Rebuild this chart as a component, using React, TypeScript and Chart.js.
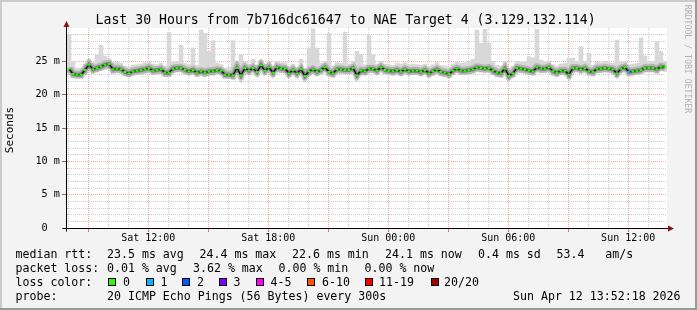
import React, { useEffect, useRef } from 'react';
import { Chart, registerables } from 'chart.js';

Chart.register(...registerables);

// ---------- texts ----------
const TITLE = 'Last 30 Hours from 7b716dc61647 to NAE Target 4 (3.129.132.114)';
const Y_TITLE = 'Seconds';
const WATERMARK = 'RRDTOOL / TOBI OETIKER';

// ---------- time axis (hours counted from Sat 00:00) ----------
const X_MIN_HOUR = 7.935;
const X_MAX_HOUR = 37.94;
const FIRST_SAMPLE_HOUR = 8.035;
const SAMPLE_STEP_HOURS = 0.2;
const xGridHours = [8, 9, 10, 11, 12, 13, 14, 15, 16, 17, 18, 19, 20, 21, 22, 23, 24, 25, 26, 27, 28, 29, 30, 31, 32, 33, 34, 35, 36, 37];
const xLabelHours = [12, 18, 24, 30, 36];
const xLabelTexts = ['Sat 12:00', 'Sat 18:00', 'Sun 00:00', 'Sun 06:00', 'Sun 12:00'];

// ---------- value axis (milliseconds) ----------
const Y_MIN = 0;
const Y_MAX = 30;
const yGridValues = [0, 1, 2, 3, 4, 5, 6, 7, 8, 9, 10, 11, 12, 13, 14, 15, 16, 17, 18, 19, 20, 21, 22, 23, 24, 25, 26, 27, 28, 29];
const yLabelValues = [0, 5, 10, 15, 20, 25];
const yLabelTexts = ['0  ', '5 m', '10 m', '15 m', '20 m', '25 m'];

// ---------- series (ms) ----------
const medianRtt = [
  23.9, 23.1, 23.0, 23.0, 23.7, 24.5, 23.8, 24.0, 24.2, 24.5,
  24.6, 23.8, 23.9, 23.8, 23.4, 23.2, 23.5, 23.6, 23.7, 23.8,
  24.0, 23.6, 23.7, 23.8, 23.3, 23.3, 23.9, 24.0, 24.0, 23.7,
  23.5, 23.7, 23.3, 23.5, 23.3, 23.5, 23.5, 23.7, 23.6, 23.0,
  23.0, 22.9, 24.0, 22.9, 24.0, 23.6, 24.0, 23.4, 24.4, 23.6,
  24.1, 23.3, 24.1, 23.9, 23.9, 23.2, 23.7, 23.2, 23.8, 22.8,
  23.5, 23.8, 23.4, 23.7, 24.1, 23.4, 23.2, 23.8, 23.8, 23.7,
  23.7, 24.0, 22.9, 23.6, 23.5, 23.9, 23.9, 23.6, 24.1, 23.7,
  23.6, 23.5, 23.7, 23.4, 23.8, 23.5, 23.6, 23.6, 23.4, 23.7,
  23.2, 23.5, 23.8, 23.4, 23.3, 23.1, 23.6, 23.9, 23.6, 23.6,
  23.7, 23.8, 24.1, 24.0, 23.9, 24.0, 23.6, 23.3, 23.2, 23.9,
  22.8, 23.2, 24.0, 23.9, 23.8, 23.6, 23.5, 24.1, 23.9, 23.9,
  24.1, 23.5, 23.3, 23.6, 23.6, 23.0, 24.0, 24.0, 23.8, 24.0,
  23.5, 23.4, 23.9, 23.9, 24.0, 23.9, 23.8, 23.2, 23.9, 24.1,
  23.4, 23.5, 23.6, 23.7, 24.0, 24.0, 24.0, 23.8, 24.2, 24.1,
];

const pingHigh = [
  29.0, 25.0, 24.0, 23.9, 24.6, 25.3, 24.8, 26.0, 27.4, 25.8,
  25.4, 24.8, 24.9, 24.7, 24.3, 24.1, 24.4, 24.5, 24.6, 24.8,
  24.9, 24.6, 24.5, 24.7, 24.3, 29.3, 24.9, 25.0, 27.4, 24.7,
  24.5, 27.0, 24.4, 29.7, 29.2, 26.5, 28.1, 24.7, 24.5, 24.0,
  24.1, 28.1, 25.0, 26.0, 24.9, 24.6, 25.3, 24.4, 25.2, 24.6,
  25.0, 24.3, 25.0, 24.8, 24.8, 24.2, 24.6, 24.1, 25.3, 23.8,
  27.0, 29.9, 27.0, 24.7, 25.0, 29.2, 24.3, 24.8, 24.7, 29.4,
  24.6, 25.0, 26.5, 26.0, 24.5, 28.9, 26.0, 24.6, 25.0, 24.6,
  24.5, 24.4, 24.7, 24.6, 24.8, 24.5, 24.6, 24.5, 24.4, 24.6,
  24.2, 24.5, 24.8, 24.4, 24.3, 24.1, 24.6, 24.9, 24.7, 24.8,
  25.0, 25.3, 29.7, 27.7, 29.8, 27.7, 25.0, 24.4, 24.3, 24.9,
  23.9, 24.3, 25.0, 24.9, 25.0, 25.7, 25.5, 29.8, 25.2, 24.9,
  25.0, 24.5, 24.3, 24.6, 24.7, 25.5, 25.5, 25.0, 27.2, 25.0,
  26.2, 24.4, 24.9, 24.8, 25.0, 24.8, 24.7, 28.2, 24.9, 25.0,
  24.5, 24.6, 24.7, 28.5, 25.8, 25.0, 24.9, 28.0, 26.5, 25.0,
];

const pingLow = [
  23.3, 22.6, 22.5, 22.5, 23.1, 23.8, 23.2, 23.4, 23.6, 23.8,
  23.9, 23.2, 23.3, 23.2, 22.8, 22.7, 22.9, 23.0, 23.1, 23.2,
  23.3, 23.0, 23.1, 23.2, 22.7, 22.7, 23.3, 23.4, 23.4, 23.1,
  22.9, 23.1, 22.7, 22.9, 22.7, 22.9, 22.9, 23.1, 23.0, 22.5,
  22.4, 22.3, 23.3, 22.3, 23.4, 23.0, 23.4, 22.8, 23.7, 23.0,
  23.5, 22.7, 23.5, 23.3, 23.3, 22.6, 23.1, 22.6, 23.2, 22.2,
  22.9, 23.2, 22.8, 23.1, 23.5, 22.8, 22.6, 23.2, 23.2, 23.1,
  23.1, 23.4, 22.3, 23.0, 22.9, 23.3, 23.3, 23.0, 23.5, 23.1,
  23.0, 22.9, 23.1, 22.8, 23.2, 22.9, 23.0, 23.0, 22.8, 23.1,
  22.6, 22.9, 23.2, 22.8, 22.7, 22.5, 23.0, 23.3, 23.0, 23.0,
  23.1, 23.2, 23.5, 23.4, 23.3, 23.4, 23.0, 22.7, 22.6, 23.3,
  22.2, 22.6, 23.4, 23.3, 23.2, 23.0, 22.9, 23.5, 23.3, 23.3,
  23.5, 22.9, 22.7, 23.0, 23.0, 22.4, 23.4, 23.4, 23.2, 23.4,
  22.9, 22.8, 23.3, 23.3, 23.4, 23.3, 23.2, 22.6, 23.3, 23.5,
  22.8, 22.9, 23.0, 23.1, 23.4, 23.4, 23.4, 23.2, 23.6, 23.5,
];

// samples that lost pings (index into the series, number of lost pings)
const lossIndex = [140];
const lossCount = [1];

// ---------- legend ----------
const rttHeader = 'median rtt:';
const rttTexts = ['23.5 ms avg', '24.4 ms max', '22.6 ms min', '24.1 ms now', '0.4 ms sd', '53.4   am/s'];
const lossHeader = 'packet loss:';
const lossTexts = ['0.01 % avg', '3.62 % max', '0.00 % min', '0.00 % now'];
const colorHeader = 'loss color:';
const lossLegendLabels = ['0', '1', '2', '3', '4-5', '6-10', '11-19', '20/20'];
const lossLegendColors = ['#26ff00', '#00b8ff', '#0059ff', '#7a00ff', '#ff00ff', '#ff5500', '#ff0000', '#a10000'];
const probeHeader = 'probe:';
const probeText = '20 ICMP Echo Pings (56 Bytes) every 300s';
const dateText = 'Sun Apr 12 13:52:18 2026';

// ---------- layout (pixels) ----------
const W = 697;
const H = 310;
const rttX = [107, 199.5, 292, 385, 478, 556.5];
const lossX = [107, 193, 278.5, 364.5];
const boxX = [108, 145.5, 182, 219, 255.5, 307, 365, 430.5];
const boxLabelX = [123, 160.5, 197, 233.5, 270.5, 322, 379, 444];
const MONO = '"DejaVu Sans Mono", monospace';

const sampleHour = (i: number) => FIRST_SAMPLE_HOUR + i * SAMPLE_STEP_HOURS;

const decor = {
  id: 'rrdDecor',
  beforeDraw(chart: any) {
    const { ctx, chartArea: a } = chart;
    ctx.save();
    ctx.fillStyle = '#f3f3f3';
    ctx.fillRect(0, 0, W, H);
    ctx.fillStyle = '#cbcbcb';
    ctx.fillRect(0, 0, W, 2);
    ctx.fillRect(0, 0, 2, H);
    ctx.fillStyle = '#999999';
    ctx.fillRect(0, H - 2, W, 2);
    ctx.fillRect(W - 2, 0, 2, H);
    ctx.fillStyle = '#ffffff';
    ctx.fillRect(a.left, a.top, a.right - a.left, a.bottom - a.top);
    ctx.restore();
  },
  afterDraw(chart: any) {
    const { ctx, chartArea: a } = chart;
    ctx.save();
    const ax = a.left - 0.5;
    const ay = a.bottom + 0.5;
    ctx.strokeStyle = '#000000';
    ctx.lineWidth = 1;
    ctx.beginPath();
    ctx.moveTo(ax, ay + 3);
    ctx.lineTo(ax, a.top - 2);
    ctx.moveTo(ax - 4, ay);
    ctx.lineTo(a.right + 2, ay);
    ctx.stroke();
    ctx.fillStyle = '#8b1010';
    ctx.beginPath();
    ctx.moveTo(ax, a.top - 7);
    ctx.lineTo(ax - 3, a.top - 1);
    ctx.lineTo(ax + 3, a.top - 1);
    ctx.closePath();
    ctx.fill();
    ctx.beginPath();
    ctx.moveTo(a.right + 7, ay);
    ctx.lineTo(a.right + 1, ay - 3);
    ctx.lineTo(a.right + 1, ay + 3);
    ctx.closePath();
    ctx.fill();

    // title
    ctx.fillStyle = '#000000';
    ctx.textAlign = 'left';
    ctx.textBaseline = 'alphabetic';
    ctx.font = `13.2px ${MONO}`;
    ctx.fillText(TITLE, 95.5, 24);

    // y title
    ctx.save();
    ctx.translate(10.5, 130);
    ctx.rotate(-Math.PI / 2);
    ctx.textAlign = 'center';
    ctx.textBaseline = 'middle';
    ctx.font = `11px ${MONO}`;
    ctx.fillText(Y_TITLE, 0, 0);
    ctx.restore();

    // watermark
    ctx.save();
    ctx.translate(687.5, 59);
    ctx.rotate(Math.PI / 2);
    ctx.textAlign = 'center';
    ctx.textBaseline = 'middle';
    ctx.font = `8.2px ${MONO}`;
    ctx.fillStyle = '#b0b0b0';
    ctx.fillText(WATERMARK, 0, 0);
    ctx.restore();

    // legend
    ctx.font = `11.6px ${MONO}`;
    ctx.fillStyle = '#000000';
    ctx.textAlign = 'left';
    ctx.textBaseline = 'alphabetic';
    const rows = [258, 272, 286, 300];
    ctx.fillText(rttHeader, 15.5, rows[0]);
    rttTexts.forEach((t, i) => ctx.fillText(t, rttX[i], rows[0]));
    ctx.fillText(lossHeader, 15.5, rows[1]);
    lossTexts.forEach((t, i) => ctx.fillText(t, lossX[i], rows[1]));
    ctx.fillText(colorHeader, 15.5, rows[2]);
    lossLegendLabels.forEach((t, i) => {
      ctx.fillStyle = lossLegendColors[i];
      ctx.fillRect(Math.round(boxX[i]), 278, 8, 8);
      ctx.strokeStyle = '#000000';
      ctx.strokeRect(Math.round(boxX[i]) + 0.5, 278.5, 7, 7);
      ctx.fillStyle = '#000000';
      ctx.fillText(t, boxLabelX[i], rows[2]);
    });
    ctx.fillText(probeHeader, 15.5, rows[3]);
    ctx.fillText(probeText, 107, rows[3]);
    ctx.fillText(dateText, 513, rows[3]);
    ctx.restore();
  },
};

export default function App() {
  const ref = useRef<HTMLCanvasElement | null>(null);

  useEffect(() => {
    if (!ref.current) return;
    const smokeData = medianRtt.map((_, i) => ({ x: sampleHour(i), y: [pingLow[i], pingHigh[i]] }));
    const medianData = medianRtt.map((v, i) => ({ x: sampleHour(i), y: v }));
    const pointColor = (c: any) => {
      const k = lossIndex.indexOf(c.dataIndex);
      return k >= 0 ? lossLegendColors[lossCount[k]] : lossLegendColors[0];
    };

    const chart = new Chart(ref.current, {
      type: 'bar',
      data: {
        datasets: [
          {
            type: 'bar',
            data: smokeData as any,
            backgroundColor: '#d8d8d8',
            borderWidth: 0,
            barPercentage: 1,
            categoryPercentage: 1,
            grouped: false,
            order: 6,
          } as any,
          {
            type: 'line',
            data: medianData as any,
            borderColor: 'rgba(0,0,0,0.16)',
            borderWidth: 8,
            pointRadius: 0,
            tension: 0,
            order: 5,
          } as any,
          {
            type: 'line',
            data: medianData as any,
            borderColor: 'rgba(0,0,0,0.3)',
            borderWidth: 4,
            pointRadius: 0,
            tension: 0,
            order: 4,
          } as any,
          {
            type: 'line',
            data: medianData as any,
            borderColor: '#000000',
            borderWidth: 1.2,
            tension: 0,
            pointStyle: 'line',
            pointRadius: 1.5,
            pointBorderWidth: 2,
            pointBorderColor: pointColor,
            pointBackgroundColor: pointColor,
            order: 1,
          } as any,
        ],
      },
      options: {
        responsive: false,
        animation: false,
        devicePixelRatio: 1,
        events: [],
        layout: { padding: { top: 28, right: 30, left: 0, bottom: 0 } },
        plugins: { legend: { display: false }, tooltip: { enabled: false } },
        scales: {
          x: {
            type: 'linear',
            min: X_MIN_HOUR,
            max: X_MAX_HOUR,
            bounds: 'data',
            offset: false,
            afterBuildTicks: (s: any) => {
              s.ticks = xGridHours.map((v) => ({ value: v }));
            },
            afterFit: (s: any) => {
              s.height = 82;
            },
            ticks: {
              autoSkip: false,
              maxRotation: 0,
              minRotation: 0,
              padding: 0,
              color: '#000000',
              font: { family: MONO, size: 10 },
              callback: (v: any) => {
                const k = xLabelHours.indexOf(Number(v));
                return k >= 0 ? xLabelTexts[k] : '';
              },
            },
            border: { display: false, dash: [1, 1] },
            grid: {
              offset: false,
              lineWidth: 1,
              tickLength: 4,
              color: (c: any) => (c.tick && c.tick.value % 3 === 0 ? 'rgba(255,60,60,0.45)' : 'rgba(150,150,150,0.45)'),
              tickColor: (c: any) => (c.tick && c.tick.value % 3 === 0 ? 'rgba(190,40,40,0.6)' : 'rgba(0,0,0,0)'),
            },
          },
          y: {
            type: 'linear',
            min: Y_MIN,
            max: Y_MAX,
            bounds: 'data',
            afterBuildTicks: (s: any) => {
              s.ticks = yGridValues.map((v) => ({ value: v }));
            },
            afterFit: (s: any) => {
              s.width = 67;
            },
            ticks: {
              autoSkip: false,
              padding: 2,
              color: '#000000',
              font: { family: MONO, size: 10.2 },
              callback: (v: any) => {
                const k = yLabelValues.indexOf(Number(v));
                return k >= 0 ? yLabelTexts[k] : '';
              },
            },
            border: { display: false, dash: [1, 1] },
            grid: {
              lineWidth: 1,
              tickLength: 5,
              color: (c: any) => (c.tick && c.tick.value % 5 === 0 ? 'rgba(255,60,60,0.45)' : 'rgba(150,150,150,0.45)'),
              tickColor: (c: any) => (c.tick && c.tick.value % 5 === 0 ? 'rgba(120,40,40,0.7)' : 'rgba(0,0,0,0)'),
            },
          },
        },
      } as any,
      plugins: [decor],
    });
    return () => chart.destroy();
  }, []);

  return (
    <div style={{ position: 'fixed', left: 0, top: 0, width: W, height: H }}>
      <canvas ref={ref} width={W} height={H} style={{ display: 'block', width: W, height: H }} />
    </div>
  );
}
